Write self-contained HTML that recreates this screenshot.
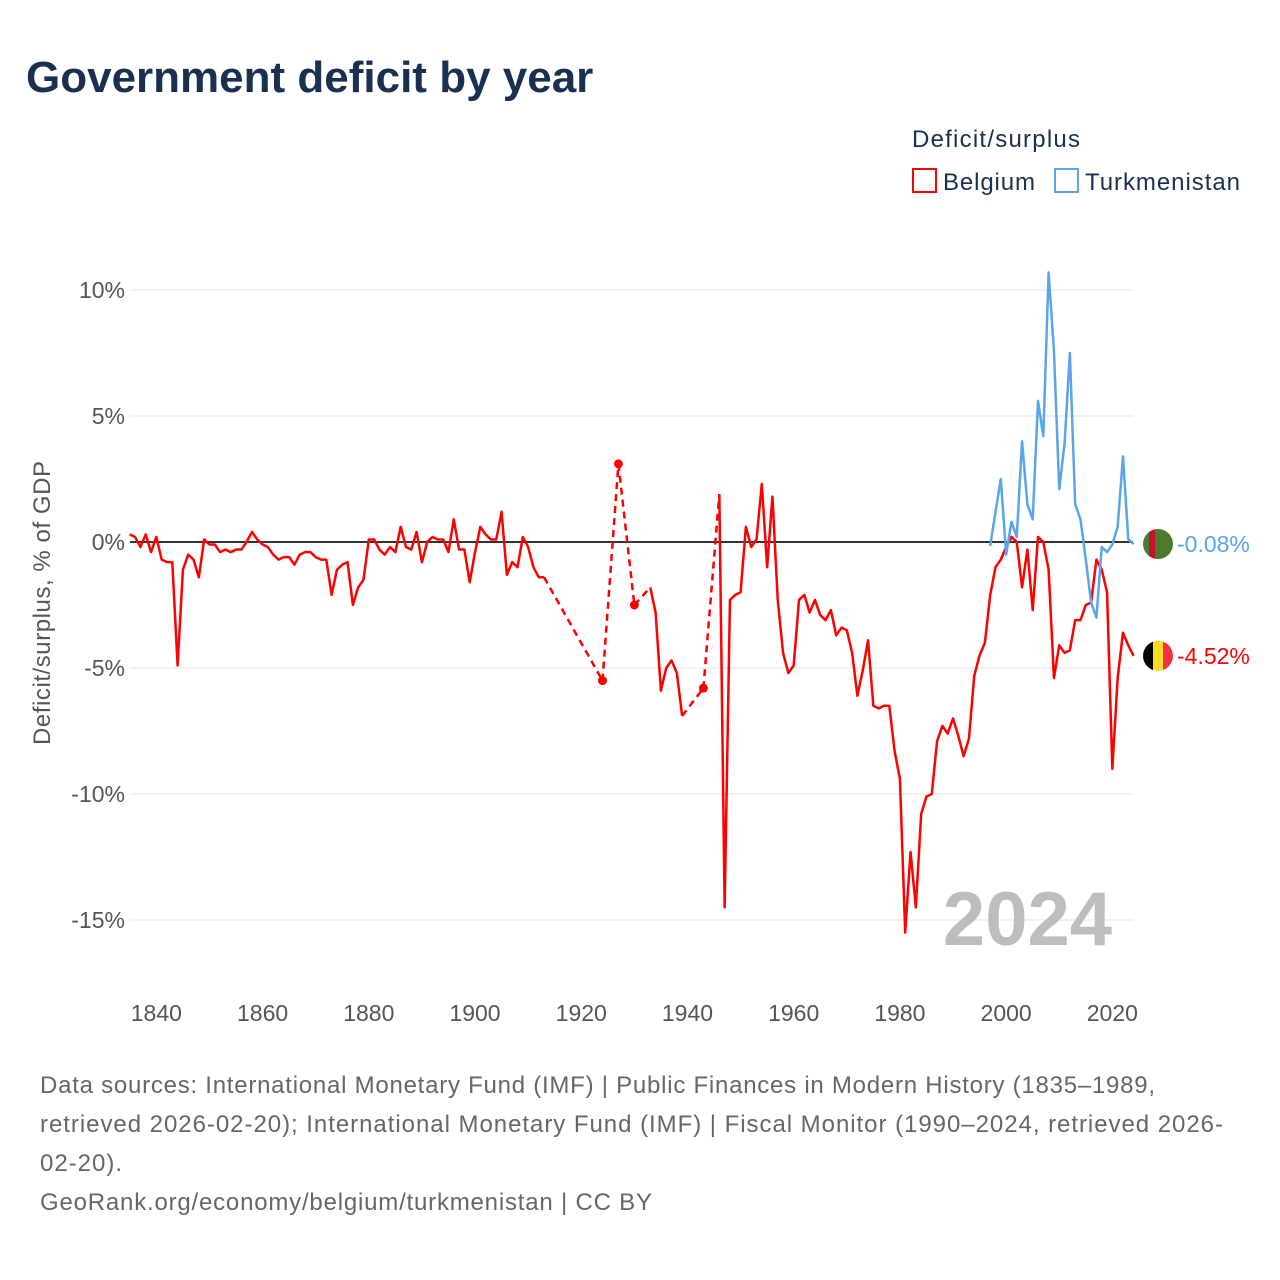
<!DOCTYPE html>
<html><head><meta charset="utf-8"><style>
body{margin:0;background:#fff;font-family:"Liberation Sans",sans-serif;}
#wrap{position:relative;width:1280px;height:1280px;overflow:hidden;}
</style></head><body>
<div id="wrap">
<svg id="svg" width="1280" height="1280" xmlns="http://www.w3.org/2000/svg">
<text x="26" y="92" font-size="44" font-weight="bold" fill="#1a3050">Government deficit by year</text>
<text x="912" y="147" font-size="24" fill="#1a3050" textLength="168">Deficit/surplus</text>
<g><rect x="913" y="169" width="23" height="23" fill="none" stroke="#ff0000" stroke-width="2"/><text x="943" y="190" font-size="24" fill="#1a3050" textLength="92">Belgium</text></g>
<g><rect x="1055" y="169" width="23" height="23" fill="none" stroke="#5aa5ea" stroke-width="2"/><text x="1085" y="190" font-size="24" fill="#1a3050" textLength="155">Turkmenistan</text></g>
<text transform="translate(50,603) rotate(-90)" text-anchor="middle" font-size="24" fill="#555" textLength="284">Deficit/surplus, % of GDP</text>
<g id="grid"></g><g id="series"></g>
<text x="1112" y="945" text-anchor="end" font-size="76" font-weight="bold" fill="#bdbdbd">2024</text>
<g id="ends"></g>
<g font-size="24" fill="#666">
<text x="40" y="1093" textLength="1115">Data sources: International Monetary Fund (IMF) | Public Finances in Modern History (1835–1989,</text>
<text x="40" y="1132" textLength="1183">retrieved 2026-02-20); International Monetary Fund (IMF) | Fiscal Monitor (1990–2024, retrieved 2026-</text>
<text x="40" y="1171" textLength="82">02-20).</text>
<text x="40" y="1210" textLength="612">GeoRank.org/economy/belgium/turkmenistan | CC BY</text>
</g>
</svg></div>
<script>
const yTicks=[10,5,0,-5,-10,-15];
const xTicks=[1840,1860,1880,1900,1920,1940,1960,1980,2000,2020];
const belYears=[1835,1836,1837,1838,1839,1840,1841,1842,1843,1844,1845,1846,1847,1848,1849,1850,1851,1852,1853,1854,1855,1856,1857,1858,1859,1860,1861,1862,1863,1864,1865,1866,1867,1868,1869,1870,1871,1872,1873,1874,1875,1876,1877,1878,1879,1880,1881,1882,1883,1884,1885,1886,1887,1888,1889,1890,1891,1892,1893,1894,1895,1896,1897,1898,1899,1900,1901,1902,1903,1904,1905,1906,1907,1908,1909,1910,1911,1912,1913,1924,1927,1930,1933,1934,1935,1936,1937,1938,1939,1943,1946,1947,1948,1949,1950,1951,1952,1953,1954,1955,1956,1957,1958,1959,1960,1961,1962,1963,1964,1965,1966,1967,1968,1969,1970,1971,1972,1973,1974,1975,1976,1977,1978,1979,1980,1981,1982,1983,1984,1985,1986,1987,1988,1989,1990,1991,1992,1993,1994,1995,1996,1997,1998,1999,2000,2001,2002,2003,2004,2005,2006,2007,2008,2009,2010,2011,2012,2013,2014,2015,2016,2017,2018,2019,2020,2021,2022,2023,2024];
const belValues=[0.3,0.2,-0.2,0.3,-0.4,0.2,-0.7,-0.8,-0.8,-4.9,-1.1,-0.5,-0.7,-1.4,0.1,-0.1,-0.1,-0.4,-0.3,-0.4,-0.3,-0.3,0,0.4,0.1,-0.1,-0.2,-0.5,-0.7,-0.6,-0.6,-0.9,-0.5,-0.4,-0.4,-0.6,-0.7,-0.7,-2.1,-1.1,-0.9,-0.8,-2.5,-1.8,-1.5,0.1,0.1,-0.3,-0.5,-0.2,-0.4,0.6,-0.2,-0.3,0.4,-0.8,0,0.2,0.1,0.1,-0.4,0.9,-0.3,-0.3,-1.6,-0.4,0.6,0.3,0.1,0.1,1.2,-1.3,-0.8,-1.0,0.2,-0.2,-1.0,-1.4,-1.4,-5.5,3.1,-2.5,-1.8,-2.8,-5.9,-5.0,-4.7,-5.2,-6.9,-5.8,1.9,-14.5,-2.3,-2.1,-2.0,0.6,-0.2,0.1,2.3,-1.0,1.8,-2.3,-4.4,-5.2,-4.9,-2.3,-2.1,-2.8,-2.3,-2.9,-3.1,-2.7,-3.7,-3.4,-3.5,-4.4,-6.1,-5.1,-3.9,-6.5,-6.6,-6.5,-6.5,-8.3,-9.4,-15.5,-12.3,-14.5,-10.8,-10.1,-10.0,-7.9,-7.3,-7.6,-7.0,-7.7,-8.5,-7.8,-5.3,-4.5,-4.0,-2.1,-1.0,-0.7,-0.2,0.2,0,-1.8,-0.3,-2.7,0.2,0,-1.1,-5.4,-4.1,-4.4,-4.3,-3.1,-3.1,-2.5,-2.4,-0.7,-1.1,-2.0,-9.0,-5.4,-3.6,-4.1,-4.52];
const tkmYears=[1997,1998,1999,2000,2001,2002,2003,2004,2005,2006,2007,2008,2009,2010,2011,2012,2013,2014,2015,2016,2017,2018,2019,2020,2021,2022,2023,2024];
const tkmValues=[-0.15,1.2,2.5,-0.5,0.8,0.2,4.0,1.5,0.9,5.6,4.2,10.7,7.6,2.1,3.9,7.5,1.5,0.9,-0.7,-2.4,-3.0,-0.2,-0.4,-0.1,0.6,3.4,0.1,-0.08];

const NS='http://www.w3.org/2000/svg';
const X=y=>129.8+(y-1835)*5.3111;
const Y=v=>542-v*25.2;
function mk(tag,attrs,parent){const e=document.createElementNS(NS,tag);for(const k in attrs)e.setAttribute(k,attrs[k]);parent.appendChild(e);return e;}
const grid=document.getElementById('grid'),series=document.getElementById('series'),ends=document.getElementById('ends');
yTicks.forEach(t=>{
  if(t!==0){const l=mk('line',{x1:130,x2:1133,y1:Y(t),y2:Y(t),stroke:'#e6e6e6','stroke-width':1},grid);
  
  }
  const tx=mk('text',{x:125,y:Y(t)+8,'text-anchor':'end','font-size':23,fill:'#555'},grid);
  tx.textContent=t+'%';
  
  
});
xTicks.forEach(t=>{
  const tx=mk('text',{x:X(t),y:1021,'text-anchor':'middle','font-size':23,fill:'#555'},grid);
  tx.textContent=t;
  
  
});
const zl=mk('line',{x1:130,x2:1133,y1:Y(0),y2:Y(0),stroke:'#333','stroke-width':2},grid);



function draw(years,vals,color,name){
  const g=mk('g',{},series);
  
  
  let seg=[];const segs=[];
  for(let i=0;i<years.length;i++){
    if(i>0&&years[i]-years[i-1]>1){segs.push(seg);seg=[];
      const dl=mk('line',{x1:X(years[i-1]),y1:Y(vals[i-1]),x2:X(years[i]),y2:Y(vals[i]),stroke:color,'stroke-width':2.5,'stroke-dasharray':'7,5'},g);
      
      }
    seg.push(i);
  }
  segs.push(seg);
  segs.forEach(s=>{
    if(s.length===1){const c=mk('circle',{cx:X(years[s[0]]),cy:Y(vals[s[0]]),r:4.5,fill:color},g);
      
      }
    else{const p=mk('polyline',{points:s.map(i=>X(years[i])+','+Y(vals[i])).join(' '),fill:'none',stroke:color,'stroke-width':2.5,'stroke-linejoin':'round'},g);
      
      }
  });
}
draw(belYears,belValues,'#ff0000','belgium');
draw(tkmYears,tkmValues,'#5aa5ea','turkmenistan');

function endLabel(v,color,name,flag){
  const cy=Y(v),cx=1158;
  const g=mk('g',{},ends);
  
  
  const cp=mk('clipPath',{id:'cp'+name},g);mk('circle',{cx:cx,cy:cy,r:15},cp);
  const fg=mk('g',{'clip-path':'url(#cp'+name+')'},g);
  flag.forEach(f=>mk('rect',{x:cx-15+f[0],y:cy-15,width:f[1],height:30,fill:f[2]},fg));
  const t=mk('text',{x:1177,y:cy+8,'font-size':23,fill:color},ends);
  t.textContent=v.toFixed(2)+'%';
  
  
}
endLabel(tkmValues[tkmValues.length-1],'#5aa5ea','turkmenistan',[[0,30,'#4a7a2c'],[6,6,'#c8102e']]);
endLabel(belValues[belValues.length-1],'#ff0000','belgium',[[0,10,'#000'],[10,10,'#fdda24'],[20,10,'#ef3340']]);
</script>
</body></html>
